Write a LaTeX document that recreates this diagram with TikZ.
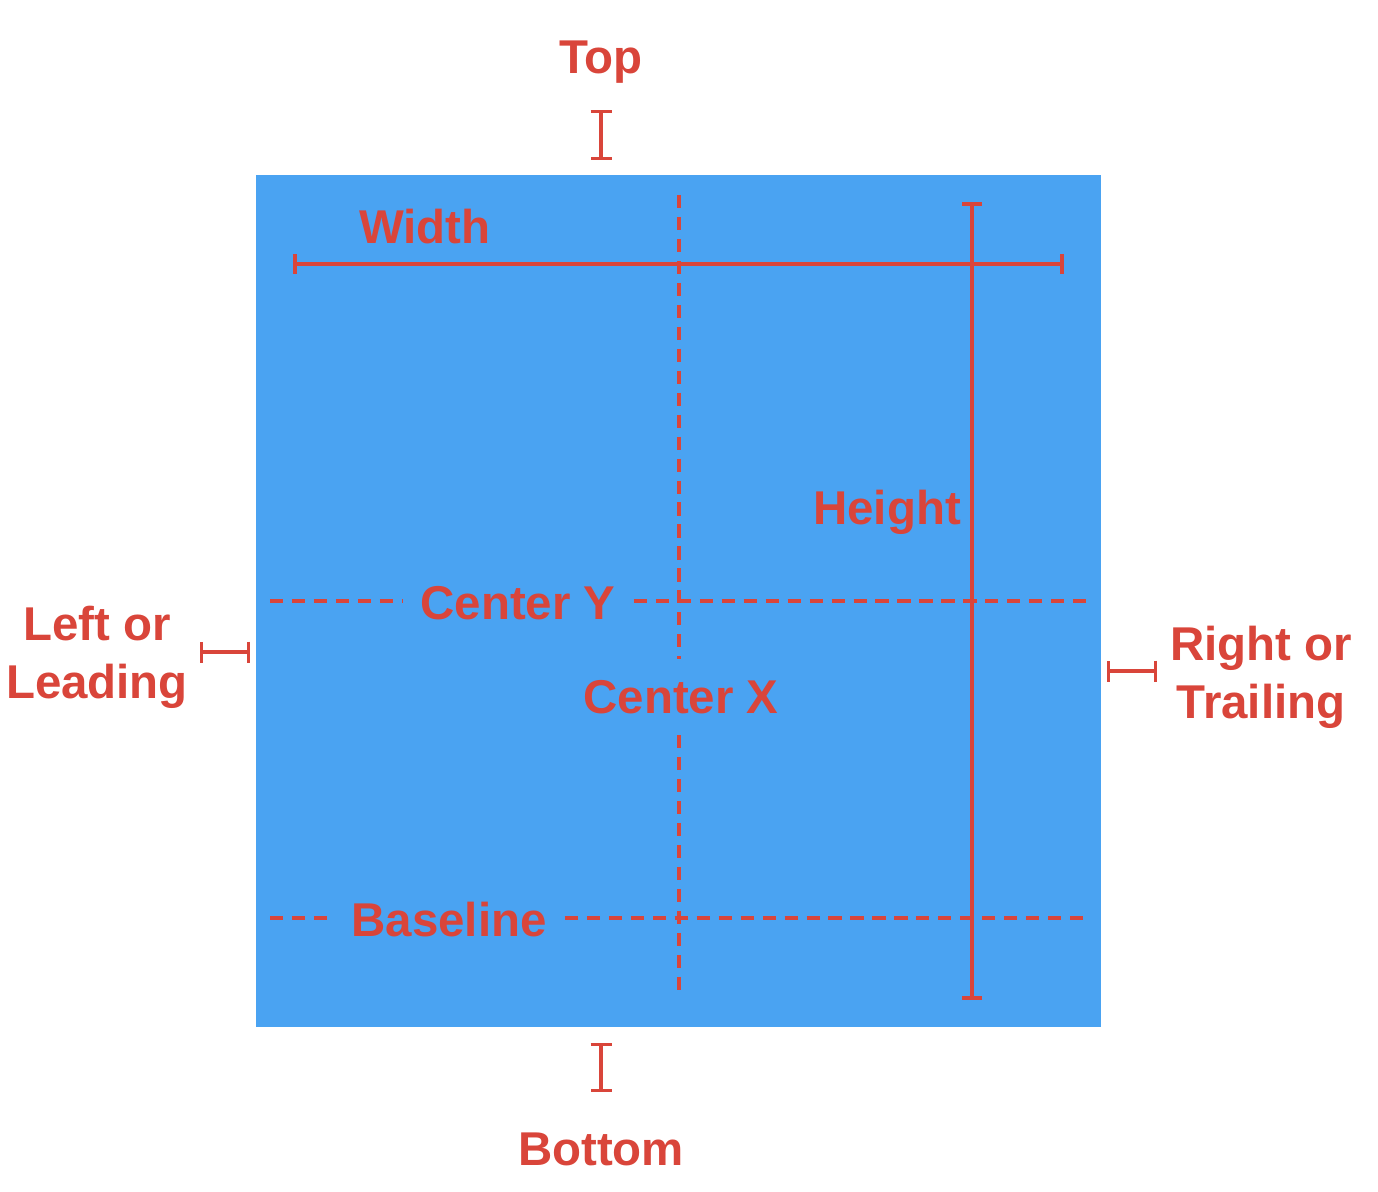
\documentclass[tikz,border=0pt]{standalone}
\usepackage{fontspec}
\setmainfont{Liberation Sans}
\usetikzlibrary{arrows.meta}
\definecolor{boxblue}{HTML}{4AA3F2}
\definecolor{markred}{HTML}{D9453A}
\begin{document}
\begin{tikzpicture}[x=0.02cm,y=-0.02cm]
    \tikzset{label/.style={text=markred, font=\fontsize{27}{33}\selectfont\bfseries, align=center, inner sep=0pt},
             gaplabel/.style={label, inner xsep=0.36cm, inner ysep=0.4cm},
             dashline/.style={draw=markred, line width=2.6pt, dash pattern=on 7.5pt off 5pt},
             measure/.style={draw=markred, line width=2.4pt, {Bar[width=0.4cm]}-{Bar[width=0.4cm]}},
             marker/.style={draw=markred, line width=1.9pt, {Bar[width=0.42cm]}-{Bar[width=0.42cm]}}}
    \useasboundingbox (0,0) rectangle (1378,1192);

    % the view
    \fill[boxblue] (256,175) rectangle (1101,1027);

    % edge markers
    \node[label] (top) at (601,62) {Top};
    \node[label] (bottom) at (601,1149) {Bottom};
    \node[label] (left) at (97,657) {Left or\\Leading};
    \node[label] (right) at (1261,677) {Right or\\Trailing};
    \draw[marker] (601,110) -- (601,160);
    \draw[marker] (601,1043) -- (601,1092);
    \draw[marker] (200,652) -- (250,652);
    \draw[marker] (1107,671) -- (1157,671);

    % center lines
    \node[gaplabel] (centery) at (518,603) {Center Y};
    \node[gaplabel] (baseline) at (449,920) {Baseline};
    \node[gaplabel, inner ysep=0.42cm] (centerx) at (681,697) {Center X};
    \coordinate (cyL) at (270,601);
    \coordinate (cyR) at (1088,601);
    \coordinate (blL) at (270,918);
    \coordinate (blR) at (1088,918);
    \coordinate (cxT) at (679,195);
    \coordinate (cxB) at (679,990);
    \draw[dashline] (cyL) -- (cyL -| centery.west);
    \draw[dashline] (cyR -| centery.east) -- (cyR);
    \draw[dashline] (blL) -- (blL -| baseline.west);
    \draw[dashline] (blR -| baseline.east) -- (blR);
    \draw[dashline] (cxT) -- (cxT |- centerx.north);
    \draw[dashline] (cxB |- centerx.south) -- (cxB);

    % width and height
    \node[label] (width) at (425,227) {Width};
    \node[label] (height) at (887,512) {Height};
    \draw[measure] (293,264) -- (1064,264);
    \draw[measure] (972,202) -- (972,1000);
\end{tikzpicture}
\end{document}
